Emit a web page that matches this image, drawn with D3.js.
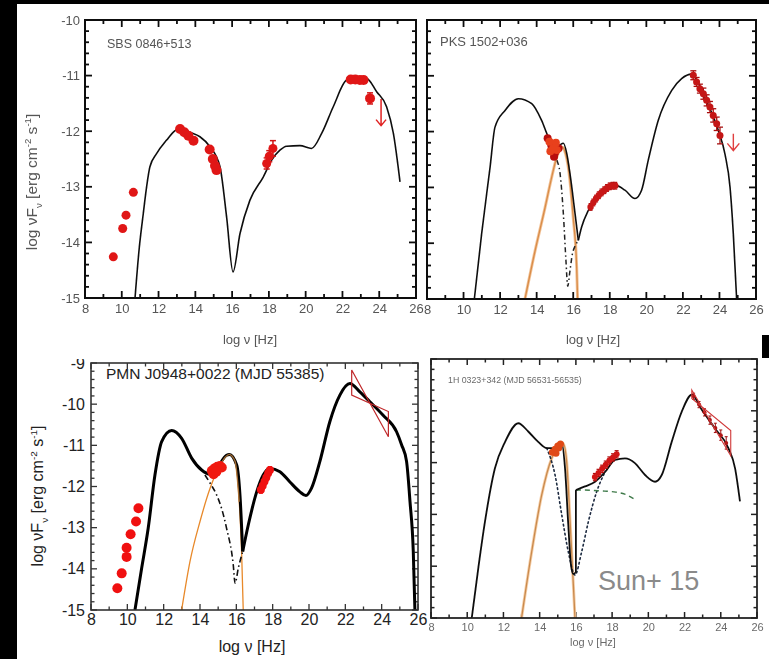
<!DOCTYPE html>
<html>
<head>
<meta charset="utf-8">
<script src="https://cdn.jsdelivr.net/npm/d3@7"></script>
<style>
  body { margin: 0; background: #000; }
  svg { display: block; }
</style>
</head>
<body>
<svg id="chart" width="769" height="659"></svg>
<script>
// ---------- shared axis values ----------
const xTicks = [8, 10, 12, 14, 16, 18, 20, 22, 24, 26];

// ---------- SBS 0846+513 ----------
const sbsModel = [[10.72,-15],[10.95,-14.1],[11.17,-13.48],[11.35,-13.0],[11.53,-12.64],[11.9,-12.40],[12.44,-12.16],[12.9,-11.99],[13.2,-11.95],[13.7,-12.02],[14.25,-12.10],[14.8,-12.28],[15.34,-12.64],[15.7,-13.54],[16.05,-14.53],[16.43,-13.84],[16.97,-13.24],[17.70,-12.82],[18.15,-12.52],[18.6,-12.34],[18.96,-12.27],[19.69,-12.26],[20.32,-12.31],[20.87,-12.04],[21.5,-11.56],[22.23,-11.08],[22.6,-11.05],[23.3,-11.05],[23.86,-11.29],[24.4,-11.56],[24.77,-12.04],[25.13,-12.91]];
const sbsRadio = [[9.54,-14.26],[10.05,-13.75],[10.23,-13.51],[10.63,-13.10]];
const sbsOptical = [[13.17,-11.96],[13.4,-12.02],[13.62,-12.08],[13.9,-12.17],[14.78,-12.33],[14.95,-12.5],[15.07,-12.62],[15.15,-12.7]];
const sbsXray = [[17.88,-12.58,0.1],[18.02,-12.45,0.1],[18.22,-12.31,0.14]];
const sbsGamma = [[22.45,-11.07,0.04],[22.7,-11.07,0.05],[22.95,-11.08,0.05],[23.15,-11.08,0.06],[23.5,-11.41,0.1]];
const sbsLimit = [[24.1,-11.42,-11.9]];

// ---------- PKS 1502+036 ----------
const pksModelSync = [[10.59,-15],[10.99,-13.83],[11.45,-12.64],[11.72,-11.92],[12.27,-11.62],[13.0,-11.41],[13.73,-11.50],[14.27,-11.80],[14.64,-12.10],[15.0,-12.28],[15.25,-12.24],[15.46,-12.21],[15.65,-12.4],[15.82,-12.75],[16.1,-13.47],[16.28,-13.95]];
const pksModelIC = [[16.28,-13.95],[16.46,-13.71],[16.83,-13.41],[17.28,-13.17],[17.83,-12.99],[18.28,-12.96],[18.83,-13.05],[19.38,-13.2],[19.74,-13.05],[20.1,-12.52],[20.65,-11.8],[21.39,-11.26],[21.93,-11.05],[22.48,-10.97],[23.03,-11.26],[23.39,-11.52],[23.94,-11.98],[24.3,-12.40],[24.58,-13.0],[24.76,-13.84],[24.94,-15.0]];
const pksJet = [[14.9,-12.3],[15.1,-12.5],[15.28,-12.75],[15.46,-13.47],[15.6,-14.3],[15.7,-14.77],[15.82,-14.5],[15.95,-14.2],[16.1,-14.05],[16.28,-13.96]];
const pksDisk = [[13.36,-15],[13.91,-14.14],[14.46,-13.36],[14.82,-12.82],[15.1,-12.46],[15.4,-12.28],[15.55,-12.36],[15.73,-12.64],[16.0,-13.54],[16.19,-14.44],[16.24,-15]];
const pksOptical = [[14.6,-12.12],[14.7,-12.18],[14.8,-12.25],[14.9,-12.3],[15.0,-12.38],[15.1,-12.33],[15.2,-12.3],[14.75,-12.35],[14.95,-12.45],[15.05,-12.2]];
const pksXray = [[16.95,-13.35,0.06],[17.1,-13.27,0.06],[17.25,-13.2,0.06],[17.4,-13.14,0.06],[17.55,-13.09,0.06],[17.7,-13.05,0.06],[17.85,-13.01,0.06],[18.0,-12.98,0.06],[18.15,-12.97,0.06],[18.3,-12.97,0.06]];
const pksGamma = [[22.57,-10.99,0.08],[22.75,-11.11,0.08],[22.93,-11.23,0.08],[23.12,-11.32,0.1],[23.3,-11.44,0.1],[23.48,-11.56,0.1],[23.66,-11.71,0.12],[23.85,-11.86,0.12],[24.03,-12.07,0.15]];
const pksLimit = [[24.76,-12.04,-12.34]];

// ---------- PMN J0948+0022 ----------
const pmnModelSync = [[10.42,-15],[10.79,-13.98],[11.15,-13.01],[11.52,-11.72],[11.89,-10.91],[12.44,-10.64],[12.99,-10.83],[13.54,-11.31],[14.09,-11.60],[14.55,-11.70],[14.92,-11.56],[15.46,-11.24],[15.62,-11.22],[16.02,-11.48],[16.2,-12.21],[16.35,-13.58]];
const pmnModelIC = [[16.35,-13.58],[16.66,-12.93],[17.12,-12.13],[17.48,-11.72],[17.85,-11.56],[18.4,-11.64],[18.95,-11.89],[19.5,-12.13],[19.83,-12.22],[20.14,-12.04],[20.6,-11.39],[21.15,-10.42],[21.70,-9.78],[22.25,-9.50],[22.8,-9.70],[23.35,-9.94],[24.08,-10.27],[24.82,-10.67],[25.1,-10.99],[25.37,-11.39],[25.56,-12.37],[25.74,-13.58],[25.83,-15]];
const pmnJet = [[14.27,-11.72],[14.6,-11.95],[14.92,-12.21],[15.2,-12.55],[15.46,-13.01],[15.83,-13.90],[15.93,-14.35],[16.11,-13.98],[16.35,-13.58]];
const pmnDisk = [[12.99,-15],[13.45,-13.82],[14.0,-12.85],[14.55,-12.05],[15.1,-11.48],[15.61,-11.22],[15.93,-11.39],[16.16,-12.37],[16.29,-13.58],[16.38,-15]];
const pmnRadio = [[9.45,-14.47],[9.69,-14.11],[9.96,-13.71],[9.96,-13.49],[10.18,-13.16],[10.48,-12.85],[10.61,-12.53]];
const pmnOptical = [[14.65,-11.62],[14.8,-11.56],[14.95,-11.52],[15.1,-11.5],[15.2,-11.54],[14.75,-11.7],[14.9,-11.64]];
const pmnXray = [[17.35,-12.08,0.08],[17.45,-11.98,0.08],[17.55,-11.88,0.08],[17.65,-11.78,0.08],[17.75,-11.68,0.08],[17.85,-11.6,0.08]];
const pmnBowtie = [[22.35,-9.17],[24.37,-10.79],[24.37,-10.18],[22.35,-9.78]];

// ---------- 1H 0323+342 ----------
const h0323ModelSync = [[10.25,-15],[10.61,-14.04],[10.98,-13.14],[11.53,-12.11],[12.09,-11.60],[12.82,-11.24],[13.37,-11.40],[13.92,-11.60],[14.39,-11.72],[14.75,-11.72],[15.05,-11.66],[15.22,-11.63],[15.4,-12.11],[15.58,-13.2],[15.72,-13.95],[15.85,-14.15],[16.0,-14.12]];
const h0323ModelIC = [[16.0,-12.53],[16.5,-12.46],[17.06,-12.37],[17.61,-12.18],[18.16,-11.95],[18.71,-11.92],[19.26,-12.01],[19.82,-12.24],[20.37,-12.37],[20.74,-12.24],[21.29,-11.60],[21.84,-11.02],[22.4,-10.69],[22.95,-10.98],[23.68,-11.34],[24.42,-11.72],[24.79,-12.11],[25.06,-12.75]];
const h0323Jet = [[14.39,-11.72],[14.85,-12.24],[15.22,-13.01],[15.58,-13.72],[15.95,-14.17],[16.32,-13.72],[16.69,-13.14],[17.15,-12.56],[17.61,-12.18]];
const h0323Corona = [[16.0,-12.53],[16.5,-12.53],[17.0,-12.54],[17.6,-12.55],[18.2,-12.57],[18.7,-12.61],[19.2,-12.70]];
const h0323Disk = [[13.0,-15],[13.56,-13.72],[14.11,-12.63],[14.66,-11.92],[15.03,-11.69],[15.3,-11.63],[15.49,-11.98],[15.68,-13.14],[15.86,-14.36],[15.95,-15]];
const h0323Optical = [[14.7,-11.8],[14.85,-11.74],[15.0,-11.68],[15.15,-11.64],[14.9,-11.82],[15.05,-11.72]];
const h0323Xray = [[17.05,-12.28,0.07],[17.25,-12.2,0.07],[17.45,-12.12,0.07],[17.65,-12.04,0.07],[17.85,-11.96,0.07],[18.05,-11.9,0.07],[18.25,-11.84,0.07]];
const h0323Gamma = [[22.5,-10.72,0.06],[22.8,-10.88,0.06],[23.1,-11.03,0.07],[23.4,-11.18,0.08],[23.7,-11.33,0.09],[24.0,-11.47,0.1],[24.3,-11.62,0.12]];
const h0323Bowtie = [[22.4,-10.6],[24.55,-11.87],[24.55,-11.38],[22.4,-10.76]];

// ---------- drawing ----------
const FONT = "'Liberation Sans', Arial, Helvetica, sans-serif";
const svg = d3.select('#chart');
const defs = svg.append('defs');
defs.append('filter').attr('id', 'soft').attr('filterUnits', 'userSpaceOnUse')
  .attr('x', 0).attr('y', 0).attr('width', 769).attr('height', 659)
  .append('feGaussianBlur').attr('stdDeviation', 0.45);

svg.append('rect').attr('width', 769).attr('height', 659).attr('fill', '#000');

function background(x, y, w, h, fill) {
  svg.append('rect').attr('x', x).attr('y', y).attr('width', w).attr('height', h).attr('fill', fill || '#fff');
}

function makePanel(o) {
  const g = svg.append('g');
  if (o.soft) g.attr('filter', 'url(#soft)');
  const x = d3.scaleLinear().domain([8, 26]).range([o.left, o.right]);
  const y = d3.scaleLinear().domain(o.yDomain).range([o.bottom, o.top]);
  const clipId = 'clip-' + o.id;
  defs.append('clipPath').attr('id', clipId).append('rect')
    .attr('x', o.left).attr('y', o.top).attr('width', o.right - o.left).attr('height', o.bottom - o.top);

  const xMinor = d3.range(9, 26, 2);
  const yMajor = d3.range(Math.ceil(o.yDomain[0]), o.yDomain[1] + 0.001, 1);
  const yMinor = d3.range(0, Math.round((o.yDomain[1] - o.yDomain[0]) / 0.2) + 1)
    .map(i => o.yDomain[0] + i * 0.2).filter(v => Math.abs(v - Math.round(v)) > 1e-6);

  // tick labels through d3 axes (tick lines drawn separately, pointing inward)
  const labelStyle = sel => {
    sel.select('.domain').remove();
    sel.selectAll('.tick line').remove();
    sel.selectAll('.tick text').attr('fill', o.textColor).attr('font-size', o.tickFont).attr('font-family', FONT);
  };
  g.append('g').attr('transform', `translate(0,${o.bottom})`)
    .call(d3.axisBottom(x).tickValues(xTicks).tickSize(0).tickPadding(o.xPad).tickFormat(d => String(d)))
    .call(labelStyle);
  if (o.yLabels) {
    g.append('g').attr('transform', `translate(${o.left},0)`)
      .call(d3.axisLeft(y).tickValues(yMajor).tickSize(0).tickPadding(o.yPad).tickFormat(d => String(d)))
      .call(labelStyle);
  }

  // inward tick marks on all four sides
  const tk = g.append('g').attr('stroke', o.axisColor).attr('stroke-width', o.tickWidth);
  const xt = xTicks.map(v => [v, o.major]).concat(xMinor.map(v => [v, o.minor]));
  const yt = yMajor.map(v => [v, o.major]).concat(yMinor.map(v => [v, o.minor]));
  tk.selectAll('line.xb').data(xt).join('line').attr('class', 'xb')
    .attr('x1', d => x(d[0])).attr('x2', d => x(d[0])).attr('y1', o.bottom).attr('y2', d => o.bottom - d[1]);
  tk.selectAll('line.xt').data(xt).join('line').attr('class', 'xt')
    .attr('x1', d => x(d[0])).attr('x2', d => x(d[0])).attr('y1', o.top).attr('y2', d => o.top + d[1]);
  tk.selectAll('line.yl').data(yt).join('line').attr('class', 'yl')
    .attr('y1', d => y(d[0])).attr('y2', d => y(d[0])).attr('x1', o.left).attr('x2', d => o.left + d[1]);
  tk.selectAll('line.yr').data(yt).join('line').attr('class', 'yr')
    .attr('y1', d => y(d[0])).attr('y2', d => y(d[0])).attr('x1', o.right).attr('x2', d => o.right - d[1]);

  const plot = g.append('g').attr('clip-path', `url(#${clipId})`);

  // frame
  g.append('rect').attr('x', o.left).attr('y', o.top).attr('width', o.right - o.left).attr('height', o.bottom - o.top)
    .attr('fill', 'none').attr('stroke', o.axisColor).attr('stroke-width', o.frameWidth);

  // title
  g.append('text').attr('x', o.titleX).attr('y', o.titleY).attr('font-family', FONT)
    .attr('font-size', o.titleFont).attr('fill', o.textColor).text(o.title);

  // x label
  g.append('text').attr('x', o.xLabelX).attr('y', o.xLabelY).attr('text-anchor', 'middle')
    .attr('dominant-baseline', 'middle').attr('font-family', FONT).attr('font-size', o.labelFont)
    .attr('fill', o.textColor).text('log ν  [Hz]');

  // y label
  if (o.yLabel) {
    const f = o.yLabelFont || o.labelFont, s = f * 0.62;
    const yl = g.append('text').attr('transform', `translate(${o.yLabelX},${o.yLabelY}) rotate(-90)`)
      .attr('text-anchor', 'middle').attr('font-family', FONT).attr('font-size', f).attr('fill', o.textColor);
    yl.append('tspan').text('log νF');
    yl.append('tspan').attr('font-size', s).attr('dy', f * 0.3).text('ν');
    yl.append('tspan').attr('dy', -f * 0.3).text('  [erg cm');
    yl.append('tspan').attr('font-size', s).attr('dy', -f * 0.4).text('-2');
    yl.append('tspan').attr('dy', f * 0.4).text(' s');
    yl.append('tspan').attr('font-size', s).attr('dy', -f * 0.4).text('-1');
    yl.append('tspan').attr('dy', f * 0.4).text(']');
  }
  return { g, plot, x, y };
}

function curve(p, data, st) {
  const line = d3.line().x(d => p.x(d[0])).y(d => p.y(d[1])).curve(st.linear ? d3.curveLinear : d3.curveMonotoneX);
  p.plot.append('path').datum(data).attr('d', line).attr('fill', 'none')
    .attr('stroke', st.color).attr('stroke-width', st.width)
    .attr('stroke-dasharray', st.dash || null).attr('stroke-linecap', st.cap || 'butt')
    .attr('stroke-linejoin', 'round').attr('opacity', st.opacity == null ? 1 : st.opacity);
}

function dots(p, data, r, color) {
  p.plot.append('g').selectAll('circle').data(data).join('circle')
    .attr('cx', d => p.x(d[0])).attr('cy', d => p.y(d[1])).attr('r', r).attr('fill', color);
}

function errorBars(p, data, color, w, cap) {
  const g = p.plot.append('g').attr('stroke', color).attr('stroke-width', w);
  g.selectAll('line.v').data(data).join('line').attr('class', 'v')
    .attr('x1', d => p.x(d[0])).attr('x2', d => p.x(d[0]))
    .attr('y1', d => p.y(d[1] + d[2])).attr('y2', d => p.y(d[1] - d[2]));
  ['t', 'b'].forEach(k => {
    g.selectAll('line.' + k).data(data).join('line').attr('class', k)
      .attr('x1', d => p.x(d[0]) - cap).attr('x2', d => p.x(d[0]) + cap)
      .attr('y1', d => p.y(k === 't' ? d[1] + d[2] : d[1] - d[2]))
      .attr('y2', d => p.y(k === 't' ? d[1] + d[2] : d[1] - d[2]));
  });
}

function upperLimits(p, data, color, w, head) {
  const g = p.plot.append('g').attr('stroke', color).attr('stroke-width', w).attr('fill', 'none');
  g.selectAll('path').data(data).join('path').attr('d', d => {
    const cx = p.x(d[0]), y0 = p.y(d[1]), y1 = p.y(d[2]);
    return `M${cx},${y0}V${y1}M${cx - head},${y1 - head * 1.2}L${cx},${y1}L${cx + head},${y1 - head * 1.2}`;
  });
}

function bowtie(p, data, color, w) {
  p.plot.append('path').datum(data)
    .attr('d', d3.line().x(d => p.x(d[0])).y(d => p.y(d[1])).curve(d3.curveLinearClosed))
    .attr('fill', 'none').attr('stroke', color).attr('stroke-width', w);
}

// ---------- panel backgrounds (lower row first, upper row overlaps it) ----------
background(17, 336, 410, 323);
background(425, 336, 344, 323);

// ---------- PMN J0948+0022 ----------
const pmn = makePanel({
  id: 'pmn', left: 91, right: 418, top: 363, bottom: 610, yDomain: [-15, -9], soft: false,
  axisColor: '#333', textColor: '#222', tickWidth: 1.3, frameWidth: 1.6, major: 6, minor: 3.5,
  tickFont: 16, xPad: 4, yPad: 6, yLabels: true,
  title: 'PMN J0948+0022 (MJD 55385)', titleX: 106, titleY: 379, titleFont: 15.5,
  labelFont: 16, xLabelX: 252, xLabelY: 648, yLabel: true, yLabelX: 43, yLabelY: 496
});
curve(pmn, pmnDisk, { color: '#e8892a', width: 1.3 });
curve(pmn, pmnJet, { color: '#111', width: 1.6, dash: '6,3,1.5,3' });
curve(pmn, pmnModelSync, { color: '#000', width: 3 });
curve(pmn, pmnModelIC, { color: '#000', width: 3 });
curve(pmn, pmnDisk.slice(4, 8), { color: '#b87a3a', width: 1.4, opacity: 0.85 });
dots(pmn, pmnRadio, 5, '#f01010');
dots(pmn, pmnOptical, 5, '#f01a10');
errorBars(pmn, pmnXray, '#e81010', 1.5, 2);
dots(pmn, pmnXray, 4, '#f01010');
bowtie(pmn, pmnBowtie, '#c0282a', 1.2);

// ---------- 1H 0323+342 ----------
const h0323 = makePanel({
  id: 'h0323', left: 431, right: 757, top: 359, bottom: 618, yDomain: [-15, -10], soft: true,
  axisColor: '#222', textColor: '#6a6a6a', tickWidth: 1.5, frameWidth: 1.8, major: 6, minor: 3.5,
  tickFont: 11, xPad: 5, yPad: 5, yLabels: false,
  title: '1H 0323+342 (MJD 56531-56535)', titleX: 448, titleY: 383, titleFont: 8.8,
  labelFont: 11, xLabelX: 593, xLabelY: 643, yLabel: false
});
curve(h0323, h0323Disk, { color: '#f6cfa8', width: 3 });
curve(h0323, h0323Disk, { color: '#c98a4e', width: 1.3 });
curve(h0323, h0323Jet, { color: '#1c2a40', width: 1.6, dash: '1.6,3', cap: 'round' });
curve(h0323, h0323Corona, { color: '#3f7a4a', width: 1.4, dash: '5,4' });
curve(h0323, h0323ModelSync, { color: '#111', width: 1.8 });
curve(h0323, [h0323ModelSync[h0323ModelSync.length - 1], h0323ModelIC[0]], { color: '#111', width: 1.8, linear: true });
curve(h0323, h0323ModelIC, { color: '#111', width: 1.8 });
dots(h0323, h0323Optical, 3.5, '#e04a14');
errorBars(h0323, h0323Xray, '#b01010', 1.2, 2);
dots(h0323, h0323Xray, 3, '#d01818');
errorBars(h0323, h0323Gamma, '#a01010', 1, 1.5);
dots(h0323, h0323Gamma, 2, '#b01414');
bowtie(h0323, h0323Bowtie, '#d03838', 1.1);

svg.append('text').attr('x', 598).attr('y', 590).attr('font-family', FONT).attr('font-size', 27)
  .attr('fill', '#8a8a8a').text('Sun+ 15');

// ---------- upper row ----------
background(17, 4, 408, 355);
background(422, 4, 347, 346);
background(762, 335, 7, 23, '#000');

// ---------- SBS 0846+513 ----------
const sbs = makePanel({
  id: 'sbs', left: 85, right: 416, top: 20, bottom: 298, yDomain: [-15, -10], soft: true,
  axisColor: '#111', textColor: '#555', tickWidth: 1.8, frameWidth: 2, major: 7, minor: 4,
  tickFont: 13, xPad: 6, yPad: 5, yLabels: true,
  title: 'SBS 0846+513', titleX: 107, titleY: 48, titleFont: 12.5,
  labelFont: 13, xLabelX: 250, xLabelY: 341, yLabel: true, yLabelFont: 15.5, yLabelX: 37, yLabelY: 182
});
curve(sbs, sbsModel, { color: '#111', width: 1.6 });
dots(sbs, sbsRadio, 4.5, '#e01818');
dots(sbs, sbsOptical, 5, '#e01818');
errorBars(sbs, sbsXray, '#d01515', 1.5, 3);
dots(sbs, sbsXray, 4.5, '#e01818');
errorBars(sbs, sbsGamma, '#d01515', 1.5, 3);
dots(sbs, sbsGamma, 5, '#e01818');
upperLimits(sbs, sbsLimit, '#e02020', 1.5, 5);

// ---------- PKS 1502+036 ----------
const pks = makePanel({
  id: 'pks', left: 427, right: 756, top: 20, bottom: 299, yDomain: [-15, -10], soft: true,
  axisColor: '#111', textColor: '#555', tickWidth: 1.8, frameWidth: 2, major: 7, minor: 4,
  tickFont: 13, xPad: 6, yPad: 5, yLabels: false,
  title: 'PKS 1502+036', titleX: 440, titleY: 46, titleFont: 13,
  labelFont: 13, xLabelX: 593, xLabelY: 341, yLabel: false
});
curve(pks, pksDisk, { color: '#f2c49a', width: 3 });
curve(pks, pksDisk, { color: '#d98c48', width: 1.3 });
curve(pks, pksJet, { color: '#222', width: 1.5, dash: '5,3,1.5,3' });
curve(pks, pksModelSync, { color: '#111', width: 1.6 });
curve(pks, pksModelIC, { color: '#111', width: 1.6 });
dots(pks, pksOptical.filter((d, i) => i % 2 === 0), 4, '#b81010');
dots(pks, pksOptical.filter((d, i) => i % 2 === 1), 4, '#e8401c');
errorBars(pks, pksXray, '#b01010', 1.2, 2);
dots(pks, pksXray, 3.2, '#c81818');
errorBars(pks, pksGamma, '#a81010', 1.3, 3);
dots(pks, pksGamma, 3.5, '#c41414');
upperLimits(pks, pksLimit, '#e04040', 1.4, 6);
</script>
</body>
</html>
